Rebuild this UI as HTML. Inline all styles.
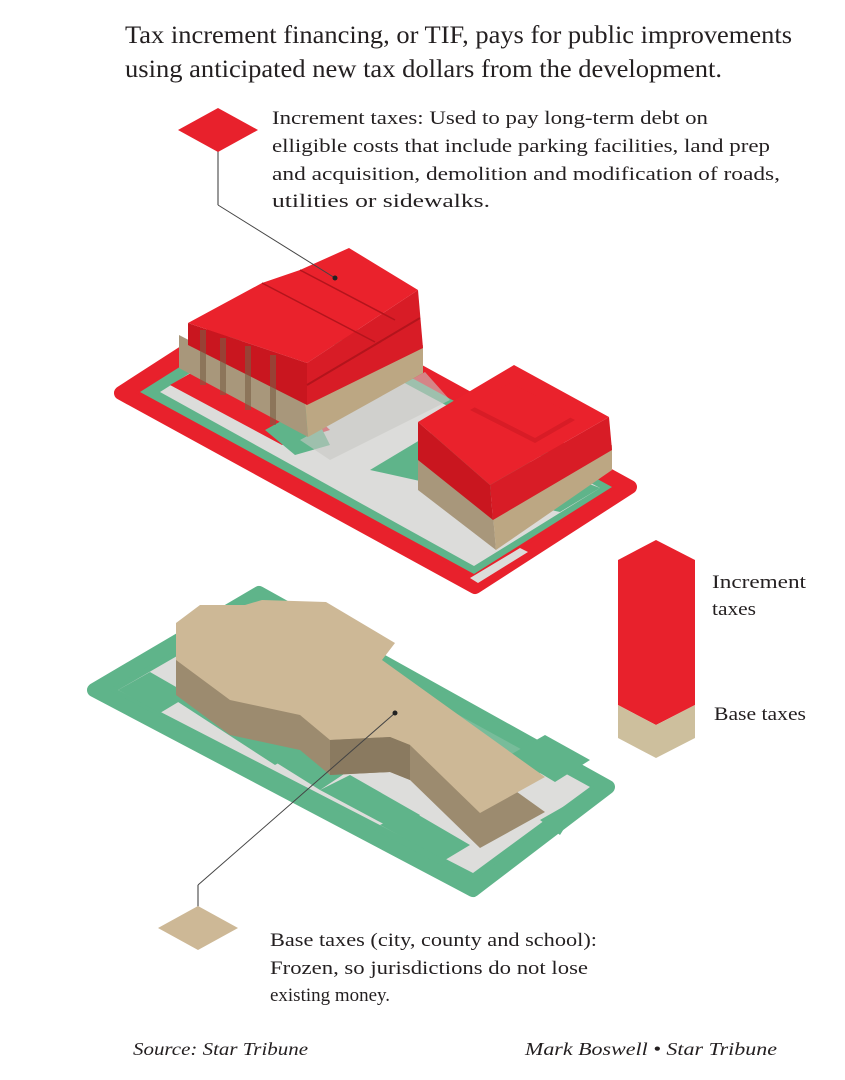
<!DOCTYPE html>
<html><head><meta charset="utf-8"><style>
html,body{margin:0;padding:0;background:#fff}
svg{display:block}
text{font-family:"Liberation Serif",serif;fill:#231f20}
</style></head><body>
<svg width="845" height="1080" viewBox="0 0 845 1080" xmlns="http://www.w3.org/2000/svg">
<text x="125" y="43" font-size="25" textLength="667" lengthAdjust="spacingAndGlyphs">Tax increment financing, or TIF, pays for public improvements</text>
<text x="125" y="77" font-size="25" textLength="597" lengthAdjust="spacingAndGlyphs">using anticipated new tax dollars from the development.</text>

<text x="272" y="124" font-size="19" textLength="436" lengthAdjust="spacingAndGlyphs">Increment taxes: Used to pay long-term debt on</text>
<text x="272" y="152" font-size="19" textLength="498" lengthAdjust="spacingAndGlyphs">elligible costs that include parking facilities, land prep</text>
<text x="272" y="180" font-size="19" textLength="508" lengthAdjust="spacingAndGlyphs">and acquisition, demolition and modification of roads,</text>
<text x="272" y="207" font-size="19" textLength="218" lengthAdjust="spacingAndGlyphs">utilities or sidewalks.</text>

<!-- top lot -->
<polygon points="121,393 276,293 630,487 475,587" fill="#e8212c" stroke="#e8212c" stroke-width="14" stroke-linejoin="round"/>
<polygon points="140,392 278,305 612,487 474,574" fill="#5fb48a"/>
<polygon points="160,392 280,316 600,488 474,566" fill="#dcdcda"/>
<polygon points="470,578 520,548 528,552 478,583" fill="#dcdcda"/>
<polygon points="370,470 440,428 600,488 560,512" fill="#5fb48a"/>
<polygon points="170,385 240,345 330,430 282,445" fill="#e8212c"/>
<polygon points="265,430 310,405 330,445 295,455" fill="#5fb48a"/>
<polygon points="300,440 425,372 450,400 330,460" fill="#c8c8c4" opacity="0.6"/>

<!-- big building -->
<polygon points="179,335 305,400 308,437 179,368" fill="#a8977b"/>
<polygon points="305,400 423,345 423,373 308,437" fill="#bca783"/>
<polygon points="188,323 307,363 307,405 188,345" fill="#c9161f"/>
<polygon points="307,363 418,290 423,348 307,405" fill="#d81c26"/>
<polygon points="188,323 262,283 300,270 349,248 418,290 307,363" fill="#ea222c"/>
<line x1="307" y1="385" x2="420" y2="318" stroke="#b3141c" stroke-width="2"/>
<polygon points="200,330 206,330 206,385 200,385" fill="#7a5f45" opacity="0.6"/>
<polygon points="220,338 226,338 226,395 220,395" fill="#7a5f45" opacity="0.6"/>
<polygon points="245,346 251,346 251,410 245,410" fill="#7a5f45" opacity="0.6"/>
<polygon points="270,355 276,355 276,425 270,425" fill="#7a5f45" opacity="0.6"/>
<line x1="262" y1="283" x2="375" y2="342" stroke="#b3141c" stroke-width="1.5"/>
<line x1="300" y1="270" x2="395" y2="320" stroke="#b3141c" stroke-width="1.5"/>

<!-- small building -->
<polygon points="418,455 493,515 496,550 418,490" fill="#a8977b"/>
<polygon points="493,515 612,445 612,470 496,550" fill="#bca783"/>
<polygon points="418,422 490,485 493,520 418,460" fill="#c9161f"/>
<polygon points="490,485 609,417 612,450 493,520" fill="#d81c26"/>
<polygon points="418,422 514,365 609,417 490,485" fill="#ea222c"/>
<polygon points="470,410 510,388 575,420 535,443" fill="#d81c26"/>
<polygon points="470,405 510,383 575,415 535,438" fill="#ea222c"/>

<!-- bottom lot -->
<polygon points="94,690 259,593 608,787 473,890" fill="#5fb48a" stroke="#5fb48a" stroke-width="14" stroke-linejoin="round"/>
<polygon points="118,690 262,607 590,787 473,873" fill="#dddddb"/>
<polygon points="175,700 210,680 310,745 275,765" fill="#5fb48a"/>
<polygon points="240,740 270,722 350,770 320,790" fill="#5fb48a"/>
<polygon points="320,790 350,775 420,815 395,830" fill="#5fb48a"/>
<polygon points="380,825 410,810 470,845 445,860" fill="#5fb48a"/>
<polygon points="230,610 260,598 285,612 255,625" fill="#5fb48a"/>
<polygon points="410,700 440,690 560,760 530,780" fill="#5fb48a" opacity="0.8"/>
<polygon points="118,690 150,672 190,695 160,713" fill="#5fb48a"/>
<polygon points="540,820 575,800 590,787 560,835" fill="#5fb48a"/>
<polygon points="510,755 545,735 590,760 555,782" fill="#5fb48a"/>

<!-- bottom building -->
<polygon points="176,658 200,640 245,640 262,635 326,637 395,678 382,695 545,812 480,848 410,780 390,772 330,775 300,750 230,735 176,695" fill="#9c8b6f"/>
<polygon points="176,623 200,605 245,605 262,600 326,602 395,643 382,660 545,777 480,813 410,745 390,737 330,740 300,715 230,700 176,660" fill="#cdb896"/>
<polygon points="330,740 390,737 410,745 410,780 390,772 330,775" fill="#8a7a60"/>

<!-- leader lines -->
<line x1="218" y1="150" x2="218" y2="205" stroke="#555" stroke-width="1.2"/>
<line x1="218" y1="205" x2="335" y2="278" stroke="#444" stroke-width="1"/>
<circle cx="335" cy="278" r="2.5" fill="#222"/>
<line x1="198" y1="908" x2="198" y2="885" stroke="#555" stroke-width="1.2"/>
<line x1="198" y1="885" x2="395" y2="713" stroke="#444" stroke-width="1"/>
<circle cx="395" cy="713" r="2.5" fill="#222"/>

<polygon points="178,130 218,108 258,130 218,152" fill="#e8212c"/>
<polygon points="158,928 198,906 238,928 198,950" fill="#cdb896"/>

<!-- legend -->
<polygon points="618,560 656,540 695,560 695,705 656,725 618,705" fill="#e8212c"/>
<polygon points="618,705 656,725 695,705 695,738 656,758 618,738" fill="#cdbf9d"/>
<text x="712" y="588" font-size="19" textLength="94" lengthAdjust="spacingAndGlyphs">Increment</text>
<text x="712" y="615" font-size="19" textLength="44" lengthAdjust="spacingAndGlyphs">taxes</text>
<text x="714" y="720" font-size="19" textLength="92" lengthAdjust="spacingAndGlyphs">Base taxes</text>

<text x="270" y="946" font-size="19" textLength="327" lengthAdjust="spacingAndGlyphs">Base taxes (city, county and school):</text>
<text x="270" y="974" font-size="19" textLength="318" lengthAdjust="spacingAndGlyphs">Frozen, so jurisdictions do not lose</text>
<text x="270" y="1001" font-size="19" textLength="120" lengthAdjust="spacingAndGlyphs">existing money.</text>

<text x="133" y="1055" font-size="18" font-style="italic" textLength="175" lengthAdjust="spacingAndGlyphs">Source: Star Tribune</text>
<text x="525" y="1055" font-size="18" font-style="italic" textLength="252" lengthAdjust="spacingAndGlyphs">Mark Boswell • Star Tribune</text>
</svg>
</body></html>
